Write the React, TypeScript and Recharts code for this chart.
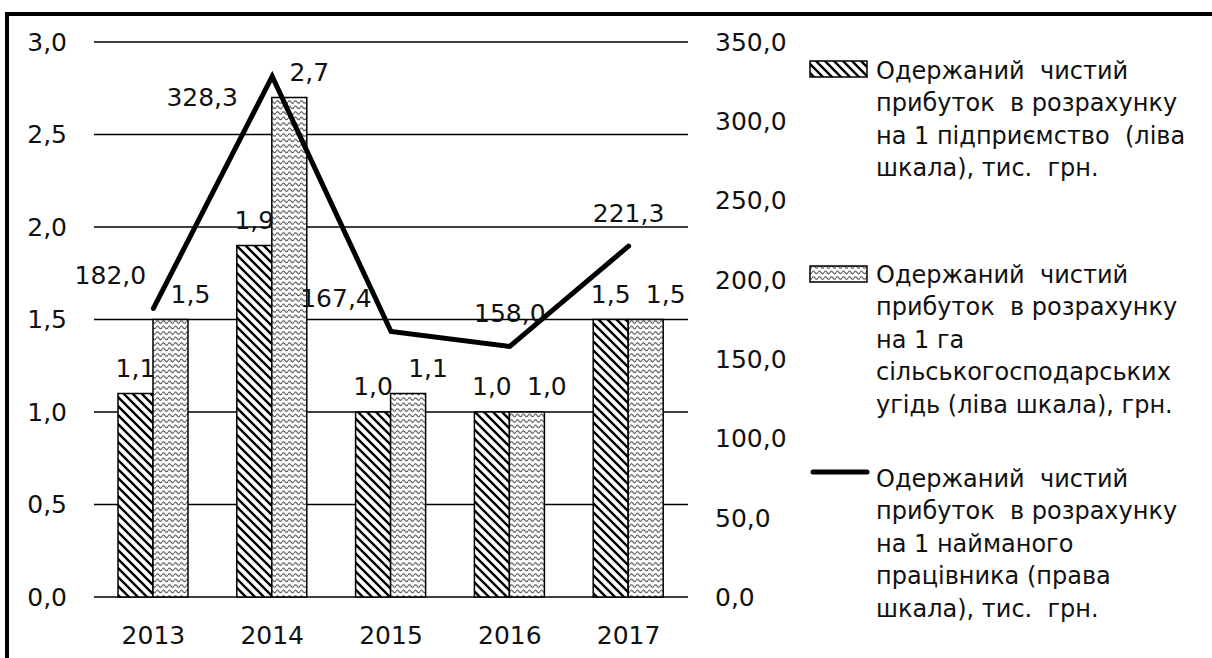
import React from 'react';
import {
  ComposedChart, Bar, Line, XAxis, YAxis, CartesianGrid, LabelList, Legend,
} from 'recharts';

const years = ['2013', '2014', '2015', '2016', '2017'];
const profitPerEnterprise = [1.1, 1.9, 1.0, 1.0, 1.5];
const profitPerHectare = [1.5, 2.7, 1.1, 1.0, 1.5];
const profitPerWorker = [182.0, 328.3, 167.4, 158.0, 221.3];
const leftTicks = [0, 0.5, 1, 1.5, 2, 2.5, 3];
const rightTicks = [0, 50, 100, 150, 200, 250, 300, 350];

const legendItems = [
  ['Одержаний  чистий', 'прибуток  в розрахунку', 'на 1 підприємство  (ліва', 'шкала), тис.  грн.'],
  ['Одержаний  чистий', 'прибуток  в розрахунку', 'на 1 га', 'сільськогосподарських', 'угідь (ліва шкала), грн.'],
  ['Одержаний  чистий', 'прибуток  в розрахунку', 'на 1 найманого', 'працівника (права', 'шкала), тис.  грн.'],
];

// label placement offsets for the line labels (dx, dy of label centre from point)
const lineLabelOffsets = [[-43, -33], [-70, 21], [-55, -34], [0, -33], [0, -33]];

const data = years.map((y, i) => ({
  year: y,
  enterprise: profitPerEnterprise[i],
  hectare: profitPerHectare[i],
  worker: profitPerWorker[i],
}));

const FONT = '"DejaVu Sans", sans-serif';
const TXT = '#111';
const fmt1 = (v: number) => Number(v).toFixed(1).replace('.', ',');

const barLabel = (dx: number) => (props: any) => {
  const { x, y, width, value } = props;
  return (
    <text x={Number(x) + Number(width) / 2 + dx} y={Number(y) - 17} textAnchor="middle"
      fontSize={25} fill={TXT} fontFamily={FONT}>{fmt1(value)}</text>
  );
};

const lineLabel = (props: any) => {
  const { x, y, value, index } = props;
  const [dx, dy] = lineLabelOffsets[index] || [0, -33];
  return (
    <text x={Number(x) + dx} y={Number(y) + dy + 9} textAnchor="middle"
      fontSize={25} fill={TXT} fontFamily={FONT}>{fmt1(value)}</text>
  );
};

const renderLegend = () => {
  const tops = [79, 283, 487];
  const pitch = 32.4;
  return (
    <svg width={412} height={658} style={{ display: 'block' }}>
      <rect x={10} y={61} width={57} height={16} fill="url(#stripes)" stroke="#000" strokeWidth={1.5} />
      <rect x={10} y={266} width={57} height={16} fill="url(#waves)" stroke="#000" strokeWidth={1.5} />
      <line x1={13} y1={472} x2={67} y2={472} stroke="#000" strokeWidth={5} strokeLinecap="round" />
      {legendItems.map((lines, i) => (
        <text key={i} fontSize={24} fill={TXT} fontFamily={FONT} style={{ whiteSpace: 'pre' }}>
          {lines.map((l, j) => (
            <tspan key={j} x={76} y={tops[i] + j * pitch}>{l}</tspan>
          ))}
        </text>
      ))}
    </svg>
  );
};

export default function App() {
  return (
    <div style={{ position: 'absolute', left: 0, top: 0, width: 1212, height: 658, overflow: 'hidden', background: '#fff' }}>
      <svg width={0} height={0} style={{ position: 'absolute' }}>
        <defs>
          <pattern id="stripes" patternUnits="userSpaceOnUse" width={9} height={9}>
            <rect width={9} height={9} fill="#fff" />
            <path d="M0,0 L9,9 M-4.5,4.5 L4.5,13.5 M4.5,-4.5 L13.5,4.5" stroke="#000" strokeWidth={2.4} />
          </pattern>
          <pattern id="waves" patternUnits="userSpaceOnUse" width={6} height={5.5}>
            <rect width={6} height={5.5} fill="#fff" />
            <path d="M0,3 Q1.5,0.6 3,3 T6,3" stroke="#444" strokeWidth={1.1} fill="none" />
          </pattern>
        </defs>
      </svg>
      <div style={{ position: 'absolute', left: 5, top: 12, width: 1300, height: 700, borderLeft: '4px solid #000', borderTop: '4px solid #000' }} />
      <div style={{ position: 'absolute', left: 0, top: 0 }}>
        <ComposedChart width={1212} height={658} data={data}
          margin={{ top: 42, right: 424, bottom: 0, left: 0 }} barGap={0} barSize={35}
          style={{ fontFamily: FONT }}>
          <CartesianGrid horizontal vertical={false} stroke="#000" strokeWidth={1.5} yAxisId="left" />
          <XAxis dataKey="year" axisLine={false} tickLine={false} height={61} tickSize={0} tickMargin={29}
            tick={{ fontSize: 25, fill: TXT, fontFamily: FONT }} interval={0} />
          <YAxis yAxisId="left" domain={[0, 3]} ticks={leftTicks} width={94} axisLine={false} tickLine={false}
            tickSize={0} tickMargin={27} tickFormatter={fmt1} interval={0}
            tick={{ fontSize: 25, fill: TXT, fontFamily: FONT }} />
          <YAxis yAxisId="right" orientation="right" domain={[0, 350]} ticks={rightTicks} width={100}
            axisLine={false} tickLine={false} tickSize={0} tickMargin={27} tickFormatter={fmt1} interval={0}
            tick={{ fontSize: 25, fill: TXT, fontFamily: FONT }} />
          <Bar yAxisId="left" dataKey="enterprise" fill="url(#stripes)" stroke="#000" strokeWidth={1.5} isAnimationActive={false}>
            <LabelList dataKey="enterprise" content={barLabel(0)} />
          </Bar>
          <Bar yAxisId="left" dataKey="hectare" fill="url(#waves)" stroke="#000" strokeWidth={1.5} isAnimationActive={false}>
            <LabelList dataKey="hectare" content={barLabel(20)} />
          </Bar>
          <Line yAxisId="right" dataKey="worker" type="linear" stroke="#000" strokeWidth={5} strokeLinecap="round"
            strokeLinejoin="miter" dot={false} activeDot={false} isAnimationActive={false}>
            <LabelList dataKey="worker" content={lineLabel} />
          </Line>
          <Legend layout="vertical" align="center" verticalAlign="middle" content={renderLegend}
            wrapperStyle={{ left: 800, top: 0, width: 412, height: 658 }} />
        </ComposedChart>
      </div>
    </div>
  );
}
